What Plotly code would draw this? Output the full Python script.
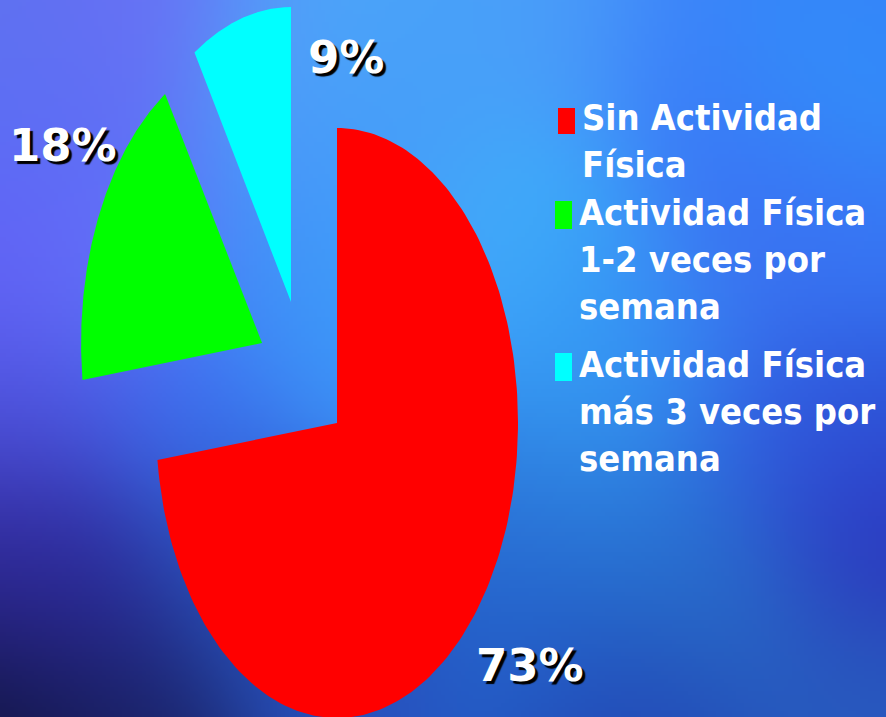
import base64
import struct
import zlib

import numpy as np
import plotly.graph_objects as go

# ---------------- data ----------------
categories = [
    "Sin Actividad Física",
    "Actividad Física 1-2 veces por semana",
    "Actividad Física más 3 veces por semana",
]
legend_text = [
    "Sin Actividad<br>Física",
    "Actividad Física<br>1-2 veces por<br>semana",
    "Actividad Física<br>más 3 veces por<br>semana",
]
values = [73, 18, 9]
colors = ["#ff0000", "#00ff00", "#00ffff"]

# ---------------- style / geometry ----------------
W, H = 886, 717
CX, CY, RX, RY = 337, 423, 181, 295          # ellipse of the pie (pixels)
explode = [(0.0, 0.0), (-0.414, 0.271), (-0.254, 0.410)]   # pull, in radius units
label_pos = [(530, 665), (63, 145), (346, 57)]
legend_box = [(558, 108, 575, 134), (555, 201, 572, 229), (555, 353, 572, 381)]
legend_txt_x = [580, 577, 577]
legend_txt_y = [141, 259, 411]
FONT = "DejaVu Sans Condensed, Liberation Sans, sans-serif"
PCT_FONT = "DejaVu Sans, Verdana, sans-serif"


# ---------------- background image ----------------
def make_background():
    pts = [
        (20, 20, (95, 115, 240)), (150, 20, (108, 110, 245)), (300, 40, (80, 170, 250)),
        (400, 80, (70, 160, 250)), (560, 20, (75, 160, 250)), (700, 40, (60, 125, 250)),
        (860, 20, (55, 120, 250)), (820, 70, (45, 165, 250)), (20, 250, (98, 95, 245)),
        (120, 250, (100, 118, 250)), (30, 420, (80, 85, 225)), (200, 420, (60, 110, 240)),
        (450, 250, (70, 170, 250)), (300, 300, (60, 150, 248)), (400, 350, (60, 150, 250)),
        (560, 240, (60, 175, 250)), (720, 280, (60, 110, 240)), (860, 250, (55, 120, 245)),
        (600, 400, (55, 160, 245)), (760, 430, (50, 90, 225)), (870, 420, (45, 90, 220)),
        (20, 560, (50, 42, 155)), (80, 600, (45, 40, 160)), (10, 705, (15, 18, 55)),
        (130, 705, (25, 35, 100)), (230, 560, (40, 90, 190)), (640, 520, (40, 120, 215)),
        (720, 600, (40, 110, 200)), (870, 530, (45, 45, 185)), (870, 690, (40, 90, 190)),
        (650, 705, (35, 70, 180)), (520, 620, (35, 95, 200)), (500, 500, (45, 120, 220)),
        (330, 650, (40, 80, 190)), (330, 150, (70, 150, 250)), (760, 150, (60, 110, 245)),
        (620, 330, (50, 150, 245)), (40, 120, (90, 110, 245)),
    ]
    w, h = 222, 180
    xs = (np.arange(w) + 0.5) * W / w
    ys = (np.arange(h) + 0.5) * H / h
    X, Y = np.meshgrid(xs, ys)
    num = np.zeros((h, w, 3))
    den = np.zeros((h, w))
    sig = 80.0
    for px, py, c in pts:
        wgt = np.exp(-((X - px) ** 2 + (Y - py) ** 2) / (2 * sig * sig))
        num += wgt[..., None] * np.array(c, dtype=float)
        den += wgt
    img = np.clip(num / den[..., None], 0, 255).astype(np.uint8)
    raw = b"".join(b"\x00" + img[r].tobytes() for r in range(h))

    def chunk(tag, data):
        return struct.pack(">I", len(data)) + tag + data + struct.pack(">I", zlib.crc32(tag + data) & 0xFFFFFFFF)

    png = b"\x89PNG\r\n\x1a\n" + chunk(b"IHDR", struct.pack(">IIBBBBB", w, h, 8, 2, 0, 0, 0)) \
        + chunk(b"IDAT", zlib.compress(raw, 9)) + chunk(b"IEND", b"")
    return "data:image/png;base64," + base64.b64encode(png).decode()


fig = go.Figure()

# ---------------- pie slices (clockwise from 12 o'clock) ----------------
total = float(sum(values))
start = 90.0
for i, v in enumerate(values):
    sweep = 360.0 * v / total
    t = np.radians(np.linspace(start, start - sweep, 200))
    ox = CX + explode[i][0] * RX
    oy = CY - explode[i][1] * RY
    xs = np.concatenate([[ox], ox + RX * np.cos(t), [ox]])
    ys = np.concatenate([[oy], oy - RY * np.sin(t), [oy]])
    fig.add_trace(go.Scatter(
        x=xs, y=ys, mode="lines", fill="toself", fillcolor=colors[i],
        line=dict(width=0, color=colors[i]), name=categories[i],
        hoverinfo="name", showlegend=False,
    ))
    start -= sweep

# ---------------- percentage labels ----------------
for i, v in enumerate(values):
    fig.add_annotation(
        x=label_pos[i][0], y=label_pos[i][1], xref="x", yref="y",
        text=f"{v}%", showarrow=False, xanchor="center", yanchor="middle",
        font=dict(family=PCT_FONT, size=45, color="white", weight="bold",
                  shadow="3px 3px 1px #000000"),
    )

# ---------------- legend ----------------
for i in range(len(values)):
    x0, y0, x1, y1 = legend_box[i]
    fig.add_shape(type="rect", xref="x", yref="y", x0=x0, y0=y0, x1=x1, y1=y1,
                  fillcolor=colors[i], line=dict(width=0))
    fig.add_annotation(
        x=legend_txt_x[i], y=legend_txt_y[i], xref="x", yref="y",
        text=legend_text[i], showarrow=False, xanchor="left", yanchor="middle",
        align="left",
        font=dict(family=FONT, size=36, color="white", weight="bold"),
    )

fig.update_layout(
    width=W, height=H,
    margin=dict(l=0, r=0, t=0, b=0),
    paper_bgcolor="#3a70e8", plot_bgcolor="rgba(0,0,0,0)",
    xaxis=dict(range=[0, W], visible=False, fixedrange=True),
    yaxis=dict(range=[H, 0], visible=False, fixedrange=True),
    showlegend=False,
    images=[dict(source=make_background(), xref="paper", yref="paper", x=0, y=1,
                 sizex=1, sizey=1, sizing="stretch", layer="below",
                 xanchor="left", yanchor="top")],
)

fig.write_html(
    "out.html",
    config={"displayModeBar": False},
    post_script="document.body.style.margin='0';document.body.style.overflow='hidden';",
)
